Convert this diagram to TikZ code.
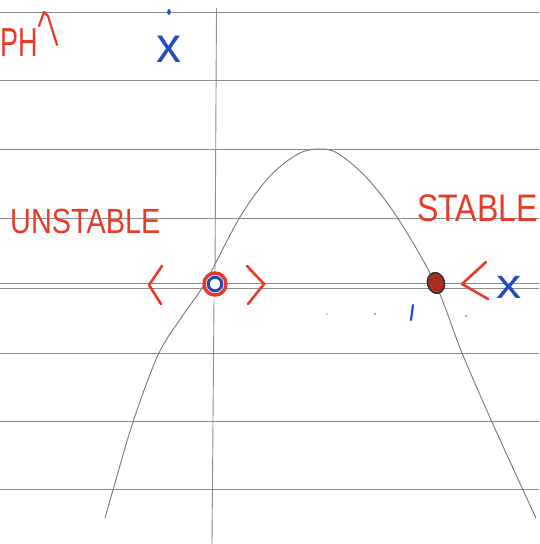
\documentclass[tikz,border=0pt]{standalone}
\usepackage{fontspec}
\usetikzlibrary{shapes.geometric}
\newfontfamily\hand{Liberation Sans}
\definecolor{penred}{RGB}{232,58,40}
\definecolor{penblue}{RGB}{35,75,200}
\definecolor{rule}{RGB}{140,140,140}
\definecolor{dotred}{RGB}{170,45,30}
\begin{document}
\begin{tikzpicture}[x=1pt,y=-1pt,
  ruling/.style={rule,line width=0.9pt},
  curve/.style={rule!85!black,line width=0.9pt},
  redtxt/.style={text=penred,inner sep=0pt,font=\hand},
  bluetxt/.style={text=penblue,inner sep=0pt,font=\hand},
  chev/.style={penred,line width=2.6pt,line cap=round,line join=round}]
\useasboundingbox (0,0) rectangle (539,544);
\fill[white] (0,0) rectangle (539,544);
% ruled lines
\foreach \yy in {12,80,149,218,283,288,353,421,489}
  \draw[ruling] (0,\yy) -- (539,\yy);
% vertical axis
\draw[ruling] (216.5,8) -- (215,272);
\draw[ruling] (214,300) -- (212,544);
% curve
\draw[curve] plot[smooth,tension=0.55] coordinates {(105,518) (113,490) (133,422) (158,355) (181,318) (205,283) (240,217) (270,176) (298,154) (318,149) (337,153) (366,177) (397,217) (435,283) (462,353) (492,422) (523,490) (536,518)};
% labels
\node[redtxt,font=\hand\fontsize{30}{30}\selectfont,anchor=base west,yscale=1.35,xscale=0.9] (ph) at (0,56) {PH};
\draw[penred,line width=2.2pt,line cap=round,line join=round] (39,26) -- (44,12) -- (48,16) -- (57,45);
\node[bluetxt,font=\hand\fontsize{50}{50}\selectfont,anchor=base] (xdot) at (169,62) {x};
\fill[penblue] (169,12) ellipse (1.8 and 3);
\node[redtxt,font=\hand\fontsize{28}{28}\selectfont,anchor=base west,yscale=1.25,xscale=1.03] (unst) at (10,233) {UNSTABLE};
\node[redtxt,font=\hand\fontsize{32}{32}\selectfont,anchor=base west,yscale=1.2] (st) at (417,221) {STABLE};
% left fixed point
\draw[chev] (162,266) -- (149,285) -- (161,304);
\draw[chev] (247,266) -- (264,284) -- (248,304);
\node[circle,draw=penred,line width=3.5pt,minimum size=22pt,inner sep=0pt,fill=white] (o) at (215,284) {};
\draw[penblue,line width=3pt] (o.center) circle (6.8);
% right fixed point
\node[ellipse,draw=black!80,fill=dotred,line width=1.5pt,minimum width=17pt,minimum height=21pt,inner sep=0pt,rotate=15] (s) at (436,283) {};
\draw[chev] (486,262) -- (462,284) -- (488,299);
\node[bluetxt,font=\hand\fontsize{42}{42}\selectfont,anchor=base,xscale=1.2] (xr) at (509,298) {x};
\draw[penblue,line width=2.2pt,line cap=round] (413,305) -- (411,320);
% faint dots
\fill[rule!70] (327,314) circle (1);
\fill[rule] (375,314) circle (1.2);
\fill[rule] (466,316) circle (1.2);
\end{tikzpicture}
\end{document}
